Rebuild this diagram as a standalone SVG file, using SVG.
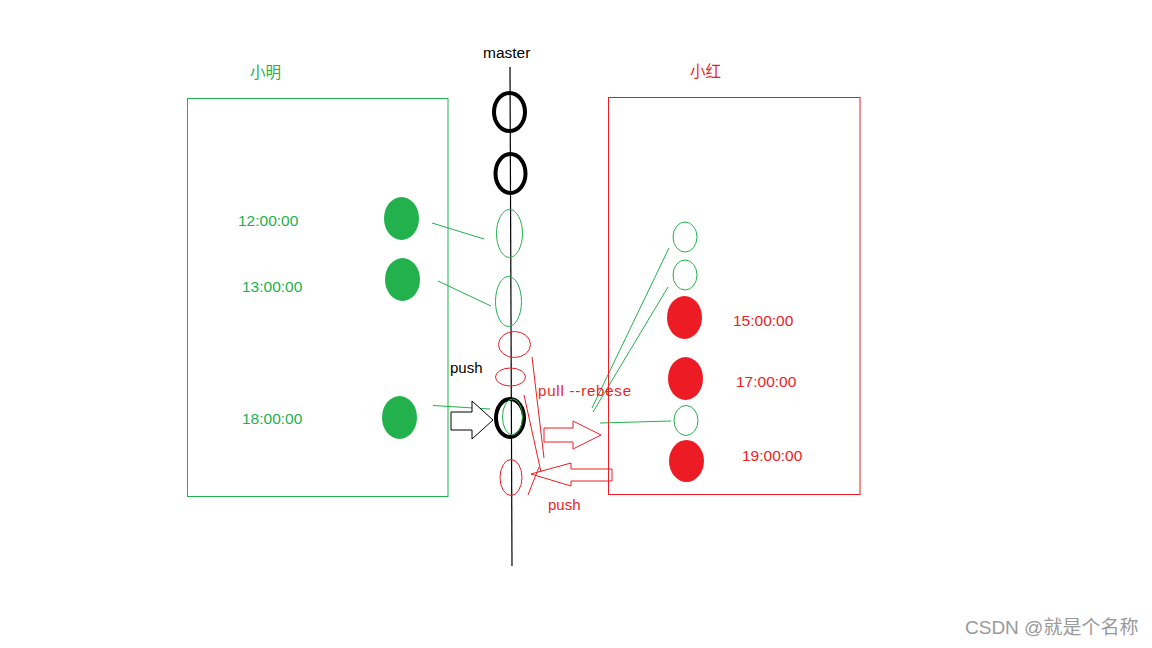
<svg xmlns="http://www.w3.org/2000/svg" width="1152" height="648" viewBox="0 0 1152 648">
<style>
.g{stroke:#22b14c;fill:none;stroke-width:1}
.r{stroke:#ed1c24;fill:none;stroke-width:1}
.gf{fill:#22b14c;stroke:none}
.rf{fill:#ed1c24;stroke:none}
.k{stroke:#000;fill:none;stroke-width:4}
.t{font-family:"Liberation Sans","Noto Sans CJK SC",sans-serif;font-size:15.5px}
.tg{fill:#22b14c}
.tr{fill:#ed1c24}
</style>
<rect width="1152" height="648" fill="#fff"/>
<g id="connectors">
<line x1="510" y1="67" x2="512" y2="566" stroke="#000" stroke-width="1.2"/>
<line class="g" x1="432" y1="223" x2="484" y2="239"/>
<line class="g" x1="438" y1="281" x2="491" y2="306"/>
<line class="g" x1="433" y1="405.5" x2="490" y2="409"/>
<line class="g" x1="669" y1="248" x2="592" y2="408"/>
<line class="g" x1="668" y1="287" x2="593" y2="412"/>
<line class="g" x1="600" y1="423" x2="671" y2="421"/>
<line class="r" x1="532" y1="357" x2="544" y2="458"/>
<line class="r" x1="524" y1="395" x2="541" y2="472"/>
<line class="r" x1="528" y1="495" x2="539" y2="467"/>
<polygon id="arrow-push-black" points="451,412 472,412 472,401 493,420 472,439 472,430 451,430" fill="#fff" stroke="#000" stroke-width="1"/>
<polygon id="arrow-pull" class="r" points="544,428 573,428 573,421 601,435 573,449 573,442 544,442"/>
<polygon id="arrow-push-red" class="r" points="612,469 571,469 571,463 531,474 571,486 571,481 612,481"/>
</g>
<g id="xiaoming">
<rect class="g" x="187.5" y="98.5" width="260.5" height="398"/>
<text class="t tg" x="250" y="78">小明</text>
</g>
<g id="xiaohong">
<rect class="r" x="608.5" y="97.5" width="251.5" height="397"/>
<text class="t tr" x="690" y="77">小红</text>
</g>
<g id="master">
<text class="t" x="483" y="58" fill="#000">master</text>
<ellipse class="k" cx="509.5" cy="112" rx="15.5" ry="19"/>
<ellipse class="k" cx="510.5" cy="173.5" rx="15" ry="19.5"/>
<ellipse class="g" cx="509.5" cy="233.5" rx="13" ry="24"/>
<ellipse class="g" cx="508.5" cy="301.5" rx="13" ry="25"/>
<ellipse class="r" cx="514.5" cy="344.5" rx="16" ry="13"/>
<ellipse class="r" cx="510.5" cy="377" rx="15" ry="9"/>
<ellipse class="k" cx="510" cy="418" rx="14" ry="19"/>
<ellipse class="g" cx="512.5" cy="417" rx="10" ry="18"/>
<ellipse class="r" cx="511" cy="477.5" rx="11" ry="18"/>
</g>
<g id="ming-commits">
<ellipse class="gf" cx="401.5" cy="218.5" rx="17.5" ry="21.5"/>
<ellipse class="gf" cx="402.5" cy="279.5" rx="17.5" ry="21.5"/>
<ellipse class="gf" cx="399.5" cy="417.5" rx="17.5" ry="21.5"/>
<text class="t tg" x="238" y="226">12:00:00</text>
<text class="t tg" x="242" y="292">13:00:00</text>
<text class="t tg" x="242" y="424">18:00:00</text>
</g>
<g id="hong-commits">
<ellipse class="g" cx="685" cy="237" rx="12" ry="15"/>
<ellipse class="g" cx="685" cy="275" rx="12" ry="15"/>
<ellipse class="rf" cx="684.5" cy="317.5" rx="17.5" ry="21.5"/>
<ellipse class="rf" cx="685.5" cy="378.5" rx="17.5" ry="21.5"/>
<ellipse class="g" cx="686" cy="420.5" rx="12" ry="15"/>
<ellipse class="rf" cx="686.5" cy="461" rx="17.5" ry="21"/>
<text class="t tr" x="733" y="326">15:00:00</text>
<text class="t tr" x="736" y="387">17:00:00</text>
<text class="t tr" x="742" y="461">19:00:00</text>
</g>
<g id="labels">
<text class="t" x="450" y="373" fill="#000" style="font-size:15px">push</text>
<text class="t tr" x="538" y="396" style="font-size:15px" textLength="93">pull --rebese</text>
<text class="t tr" x="548" y="510" style="font-size:15px">push</text>
</g>
<text x="965" y="634" fill="#999" style="font-family:'Liberation Sans','Noto Sans CJK SC',sans-serif;font-size:19px">CSDN @就是个名称</text>
</svg>
